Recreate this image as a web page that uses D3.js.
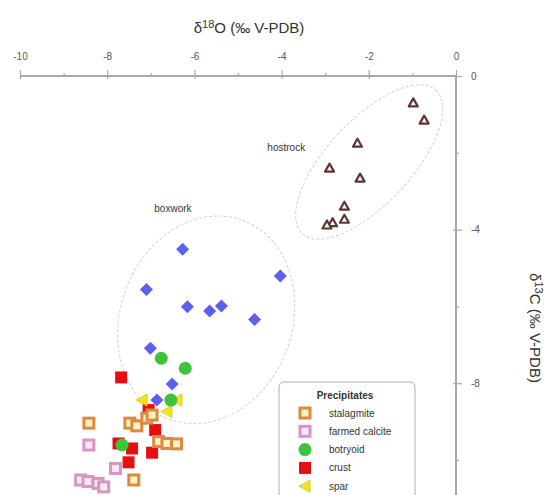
<!DOCTYPE html>
<html>
<head>
<meta charset="utf-8">
<script src="https://cdn.jsdelivr.net/npm/d3@7"></script>
<style>
  body { margin: 0; background: #fff; }
  svg { display: block; font-family: "Liberation Sans", Arial, sans-serif; }
</style>
</head>
<body>
<div id="chart"></div>
<script>
// d18O, d13C pairs
const hostrock = [[-0.98,-0.70],[-0.73,-1.15],[-2.26,-1.75],[-2.90,-2.40],[-2.20,-2.66],
                  [-2.56,-3.39],[-2.56,-3.73],[-2.83,-3.82],[-2.96,-3.88]];
const boxwork = [[-6.27,-4.51],[-4.03,-5.21],[-7.10,-5.56],[-6.16,-6.01],[-5.65,-6.12],
                 [-5.38,-5.99],[-4.62,-6.34],[-7.01,-7.09],[-6.51,-8.02],[-6.86,-8.44]];
const stalagmite = [[-8.42,-9.04],[-7.48,-9.04],[-7.32,-9.11],[-7.09,-8.91],[-6.97,-8.83],
                    [-6.82,-9.52],[-6.63,-9.57],[-6.41,-9.58],[-7.39,-10.52]];
const farmedCalcite = [[-8.42,-9.61],[-7.81,-10.22],[-8.61,-10.52],[-8.44,-10.56],
                       [-8.21,-10.61],[-8.08,-10.70]];
const crust = [[-7.68,-7.85],[-7.05,-8.70],[-6.90,-9.22],[-7.74,-9.57],[-7.43,-9.70],
               [-7.51,-10.06],[-6.97,-9.81]];
const botryoid = [[-6.76,-7.35],[-6.21,-7.61],[-6.54,-8.44],[-7.66,-9.61]];
const spar = [[-7.20,-8.44],[-6.63,-8.74],[-6.40,-8.44]];

const xMajor = [-10,-8,-6,-4,-2,0];
const xMinor = [-9,-7,-5,-3,-1];
const yMajor = [0,-4,-8];
const yMinor = [-2,-6,-10];

// group outlines: centre in data units
const groupNames = ["hostrock", "boxwork"];
const groupCentres = [[-1.99,-2.24],[-5.73,-6.35]];
const groupLabelPos = [[-3.46,-1.95],[-6.92,-3.55]];

const legendNames = ["stalagmite", "farmed calcite", "botryoid", "crust", "spar"];

const width = 547, height = 495;
const svg = d3.select("#chart").append("svg")
    .attr("width", width).attr("height", height);

const x = d3.scaleLinear().domain([-10, 0]).range([20, 456]);
const y = d3.scaleLinear().domain([0, -10]).range([76, 460]);

const axisColor = "#a8a8a8";
const tickText = "#555";

// ellipses
const ellipseShape = [{rx: 98, ry: 42, rot: -47}, {rx: 106, ry: 86, rot: -70}];
groupCentres.forEach(function (c, i) {
    const e = ellipseShape[i];
    svg.append("ellipse")
        .attr("cx", 0).attr("cy", 0)
        .attr("rx", e.rx).attr("ry", e.ry)
        .attr("transform", `translate(${x(c[0])},${y(c[1])}) rotate(${e.rot})`)
        .attr("fill", "none")
        .attr("stroke", "#d0d0d0")
        .attr("stroke-width", 1)
        .attr("stroke-dasharray", "3,2");
    svg.append("text")
        .attr("x", x(groupLabelPos[i][0]))
        .attr("y", y(groupLabelPos[i][1]))
        .attr("text-anchor", i === 0 ? "end" : "start")
        .attr("font-size", 10)
        .attr("fill", "#333")
        .text(groupNames[i]);
});

// axes
svg.append("g").attr("class", "major").attr("transform", `translate(0,${y(0)})`)
    .call(d3.axisTop(x).tickValues(xMajor).tickSizeInner(6).tickSizeOuter(0)
        .tickPadding(10).tickFormat(d => String(d)));
svg.append("g").attr("transform", `translate(0,${y(0)})`)
    .call(d3.axisTop(x).tickValues(xMinor).tickSize(3).tickSizeOuter(0).tickFormat(""));

svg.append("g").attr("class", "major").attr("transform", `translate(${x(0)},0)`)
    .call(d3.axisRight(y).tickValues(yMajor).tickSizeInner(6).tickSizeOuter(0)
        .tickPadding(9).tickFormat(d => String(d)));
svg.append("g").attr("transform", `translate(${x(0)},0)`)
    .call(d3.axisRight(y).tickValues(yMinor).tickSize(3).tickSizeOuter(0).tickFormat(""));

svg.selectAll(".domain").remove();
svg.selectAll(".tick line").attr("stroke", axisColor).attr("stroke-width", 1.2);
// major ticks cross the axis line slightly
svg.selectAll(".major .tick line").each(function () {
    const l = d3.select(this);
    if (l.attr("y2")) l.attr("y1", 3);
    if (l.attr("x2")) l.attr("x1", -3);
});
svg.selectAll(".tick text").attr("fill", tickText).attr("font-size", 10)
    .attr("font-family", "Liberation Sans, Arial, sans-serif");
svg.append("line").attr("x1", x(-10)).attr("x2", x(0)).attr("y1", y(0)).attr("y2", y(0))
    .attr("stroke", axisColor).attr("stroke-width", 2);
svg.append("line").attr("x1", x(0)).attr("x2", x(0)).attr("y1", y(0)).attr("y2", height)
    .attr("stroke", axisColor).attr("stroke-width", 2);

// axis titles
const xt = svg.append("text").attr("x", 249).attr("y", 33)
    .attr("text-anchor", "middle").attr("font-size", 15).attr("fill", "#333");
xt.append("tspan").text("δ");
xt.append("tspan").attr("dy", -5).attr("font-size", 11).text("18");
xt.append("tspan").attr("dy", 5).text("O (‰ V-PDB)");

const yt = svg.append("text").attr("transform", "translate(530,328) rotate(90)")
    .attr("text-anchor", "middle").attr("font-size", 15).attr("fill", "#333");
yt.append("tspan").text("δ");
yt.append("tspan").attr("dy", -5).attr("font-size", 11).text("13");
yt.append("tspan").attr("dy", 5).text("C (‰ V-PDB)");

// marker drawers
const styles = {
    stalagmite: {stroke: "#d98a45", fill: "#fff2c0"},
    farmed: {stroke: "#d795c4", fill: "#fbeaf6"},
    crust: {fill: "#e60f0f"},
    botryoid: {fill: "#3cc43c"},
    spar: {fill: "#f2e41e", stroke: "#d8c010"},
    boxwork: {fill: "#5d5ff0"},
    hostrock: {stroke: "#5e3434", fill: "#fff"}
};

function drawOpenSquares(data, st) {
    svg.append("g").selectAll("rect").data(data).enter().append("rect")
        .attr("x", d => x(d[0]) - 5).attr("y", d => y(d[1]) - 5)
        .attr("width", 10).attr("height", 10)
        .attr("fill", st.fill).attr("stroke", st.stroke).attr("stroke-width", 3);
}
function drawDiamonds(data, st) {
    svg.append("g").selectAll("path").data(data).enter().append("path")
        .attr("d", d3.symbol(d3.symbolSquare, 85)())
        .attr("transform", d => `translate(${x(d[0])},${y(d[1])}) rotate(45)`)
        .attr("fill", st.fill);
}
function drawTriangles(data, st) {
    svg.append("g").selectAll("path").data(data).enter().append("path")
        .attr("d", "M0,-4.5L4.5,3.5L-4.5,3.5Z")
        .attr("transform", d => `translate(${x(d[0])},${y(d[1])})`)
        .attr("fill", st.fill).attr("stroke", st.stroke).attr("stroke-width", 2.2)
        .attr("stroke-linejoin", "round");
}
function drawCircles(data, st) {
    svg.append("g").selectAll("circle").data(data).enter().append("circle")
        .attr("cx", d => x(d[0])).attr("cy", d => y(d[1])).attr("r", 6.5)
        .attr("fill", st.fill);
}
function drawSolidSquares(data, st) {
    svg.append("g").selectAll("rect").data(data).enter().append("rect")
        .attr("x", d => x(d[0]) - 6).attr("y", d => y(d[1]) - 6)
        .attr("width", 12).attr("height", 12)
        .attr("fill", st.fill);
}
function drawSpar(data, st) {
    svg.append("g").selectAll("path").data(data).enter().append("path")
        .attr("d", "M-6,0L5,-6L5,6Z")
        .attr("transform", d => `translate(${x(d[0])},${y(d[1])})`)
        .attr("fill", st.fill).attr("stroke", st.stroke).attr("stroke-width", 0.8);
}

drawTriangles(hostrock, styles.hostrock);
drawDiamonds(boxwork, styles.boxwork);
drawOpenSquares(farmedCalcite, styles.farmed);
drawSolidSquares(crust, styles.crust);
drawOpenSquares(stalagmite, styles.stalagmite);
drawSpar(spar, styles.spar);
drawCircles(botryoid, styles.botryoid);

// legend
const lg = svg.append("g").attr("transform", "translate(279,382)");
lg.append("rect").attr("x", 0).attr("y", 0).attr("width", 136).attr("height", 140)
    .attr("rx", 5).attr("fill", "#fff").attr("stroke", "#b0b0b0").attr("stroke-width", 1);
lg.append("text").attr("x", 66).attr("y", 17).attr("text-anchor", "middle")
    .attr("font-size", 10).attr("font-weight", "bold").attr("fill", "#333")
    .text("Precipitates");

legendNames.forEach(function (name, i) {
    const cy = 31 + i * 18.3;
    const row = lg.append("g").attr("transform", `translate(26,${cy})`);
    if (name === "stalagmite" || name === "farmed calcite") {
        const st = name === "stalagmite" ? styles.stalagmite : styles.farmed;
        row.append("rect").attr("x", -5).attr("y", -5).attr("width", 10).attr("height", 10)
            .attr("fill", st.fill).attr("stroke", st.stroke).attr("stroke-width", 3);
    } else if (name === "botryoid") {
        row.append("circle").attr("r", 6.5).attr("fill", styles.botryoid.fill);
    } else if (name === "crust") {
        row.append("rect").attr("x", -6).attr("y", -6).attr("width", 12).attr("height", 12)
            .attr("fill", styles.crust.fill);
    } else {
        row.append("path").attr("d", "M-6,0L5,-6L5,6Z")
            .attr("fill", styles.spar.fill).attr("stroke", styles.spar.stroke)
            .attr("stroke-width", 0.8);
    }
    lg.append("text").attr("x", 50).attr("y", cy + 3.5)
        .attr("font-size", 10).attr("fill", "#333").text(name);
});
</script>
</body>
</html>
